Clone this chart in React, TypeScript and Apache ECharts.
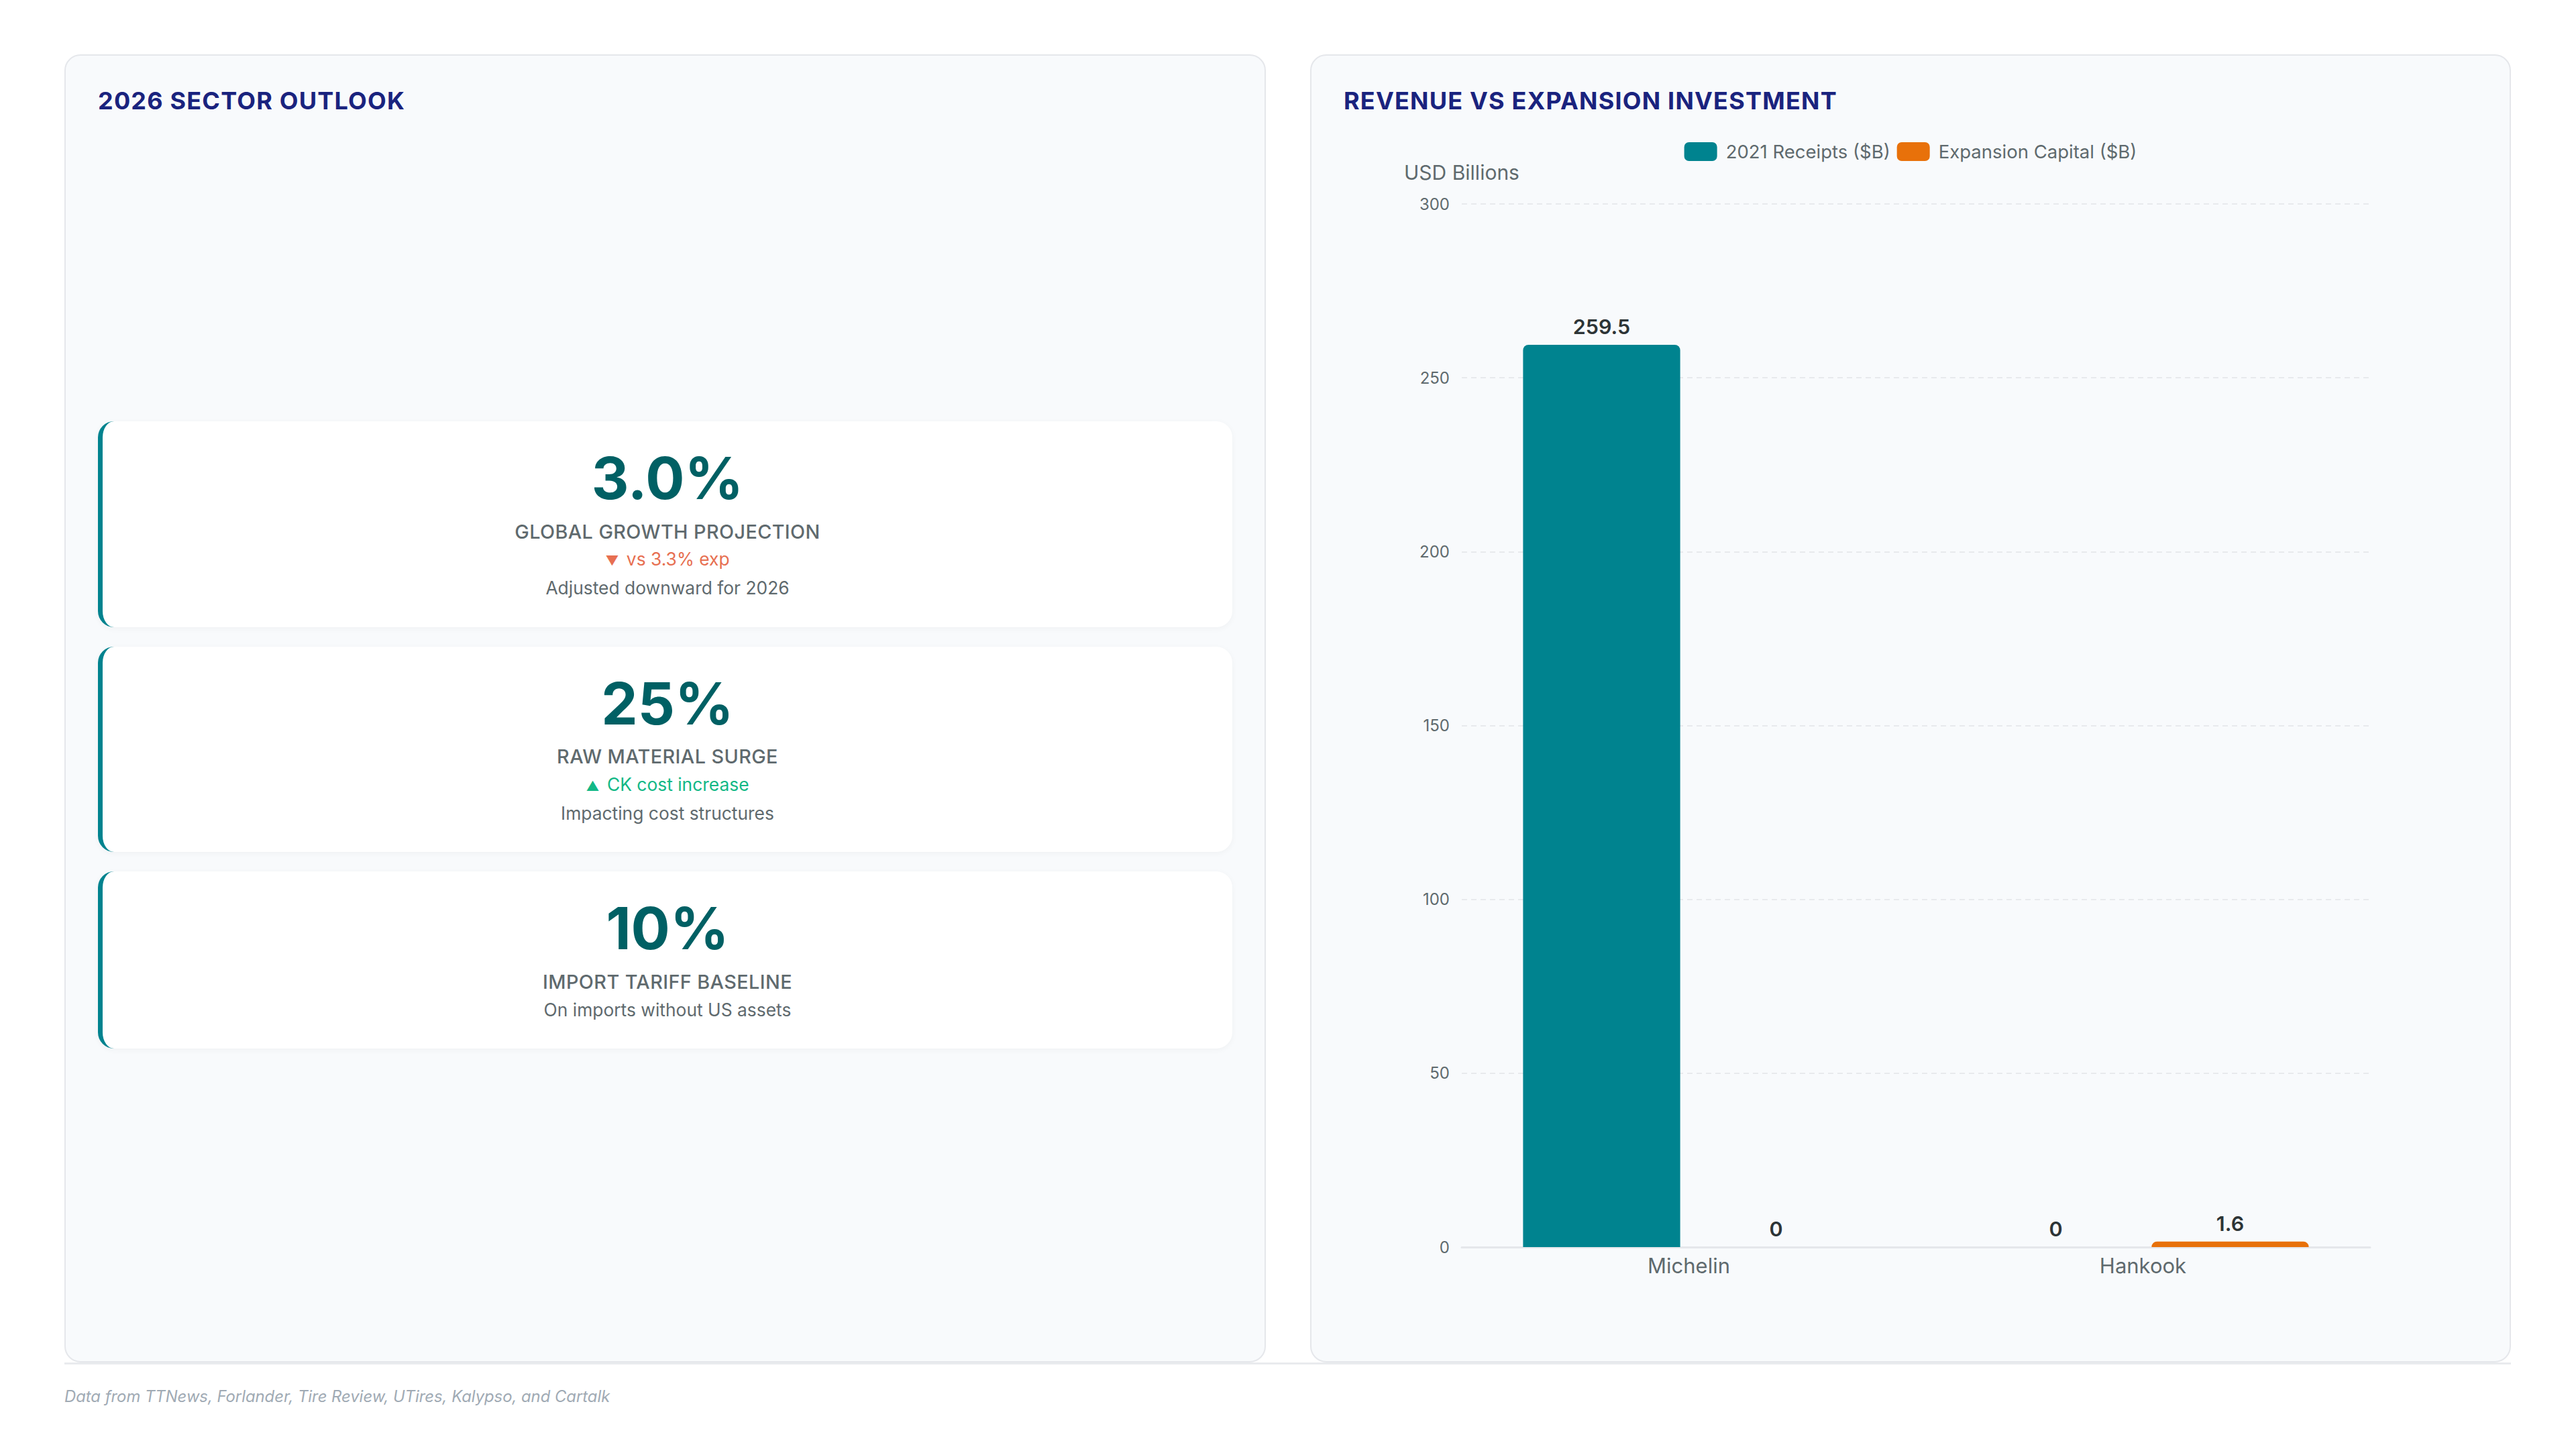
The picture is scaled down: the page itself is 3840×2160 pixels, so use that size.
import React, { useEffect, useRef } from 'react';
import * as echarts from 'echarts';

// chart data
const companies = ['Michelin', 'Hankook'];
const receiptsB = [259.5, 0];
const expansionB = [0, 1.6];
const seriesNames = ['2021 Receipts ($B)', 'Expansion Capital ($B)'];
const yMin = 0;
const yMax = 300;
const yStep = 50;

// outlook cards
const kpiValues = ['3.0%', '25%', '10%'];
const kpiLabels = ['GLOBAL GROWTH PROJECTION', 'RAW MATERIAL SURGE', 'IMPORT TARIFF BASELINE'];
const kpiDeltas = ['▼ vs 3.3% exp', '▲ CK cost increase', ''];
const kpiDeltaDir = ['down', 'up', ''];
const kpiNotes = ['Adjusted downward for 2026', 'Impacting cost structures', 'On imports without US assets'];

const TEAL = '#00838f';
const DARK_TEAL = '#006064';
const ORANGE = '#e8710a';
const NAVY = '#1a237e';
const GRAY = '#5f6a6e';
const RED = '#e76f51';
const GREEN = '#12b886';
const FONT = 'Inter, "Noto Sans", sans-serif';

const panelStyle: React.CSSProperties = {
  position: 'absolute',
  top: 81,
  width: 1791,
  height: 1950,
  boxSizing: 'border-box',
  border: '2px solid #e5e7eb',
  borderRadius: 24,
  background: '#f8fafc',
};

const titleStyle: React.CSSProperties = {
  fontSize: 36,
  fontWeight: 700,
  letterSpacing: 1.2,
  color: NAVY,
  lineHeight: 1.2,
};

const KpiCard: React.FC<{ i: number }> = ({ i }) => {
  const delta = kpiDeltas[i];
  return (
    <div
      style={{
        background: '#ffffff',
        borderLeft: `7px solid ${TEAL}`,
        borderRadius: 24,
        boxShadow: '0 2px 10px rgba(0,0,0,0.04)',
        padding: '40px 24px 42px',
        textAlign: 'center',
      }}
    >
      <div style={{ fontSize: 86.4, fontWeight: 700, color: DARK_TEAL, lineHeight: 1.05, marginBottom: 17 }}>
        {kpiValues[i]}
      </div>
      <div style={{ fontSize: 28.8, fontWeight: 500, color: GRAY, letterSpacing: 0.4, lineHeight: 1.2 }}>
        {kpiLabels[i]}
      </div>
      {delta && (
        <div
          style={{
            fontSize: 26.4,
            color: kpiDeltaDir[i] === 'down' ? RED : GREEN,
            lineHeight: 1.2,
            marginTop: 8,
          }}
        >
          <span style={{ fontSize: '0.75em', marginRight: 4 }}>{delta.slice(0, 1)}</span>
          {delta.slice(1)}
        </div>
      )}
      <div style={{ fontSize: 26.4, color: GRAY, lineHeight: 1.2, marginTop: delta ? 11 : 8 }}>{kpiNotes[i]}</div>
    </div>
  );
};

const RevenueChart: React.FC = () => {
  const chartRef = useRef<HTMLDivElement>(null);

  useEffect(() => {
    if (!chartRef.current) return;
    const chart = echarts.init(chartRef.current, undefined, { renderer: 'svg' });

    const labelStyle = {
      show: true,
      position: 'top',
      distance: 12,
      fontFamily: FONT,
      fontSize: 30.5,
      fontWeight: 600,
      color: '#2d3436',
    };

    chart.setOption({
      animation: false,
      color: [TEAL, ORANGE],
      textStyle: { fontFamily: FONT },
      legend: {
        top: 124,
        left: 'center',
        icon: 'roundRect',
        itemWidth: 49,
        itemHeight: 28,
        itemGap: 10,
        data: seriesNames,
        textStyle: { fontFamily: FONT, fontSize: 27.5, color: GRAY, padding: [0, 0, 0, 8] },
      },
      grid: { left: 224, right: 208, top: 221, bottom: 170, containLabel: false, outerBoundsMode: 'none' },
      xAxis: {
        type: 'category',
        data: companies,
        axisLine: { lineStyle: { color: '#e5e7eb', width: 3 } },
        axisTick: { show: false },
        axisLabel: { fontFamily: FONT, fontSize: 31, color: GRAY, margin: 12 },
      },
      yAxis: {
        type: 'value',
        min: yMin,
        max: yMax,
        interval: yStep,
        name: 'USD Billions',
        nameLocation: 'end',
        nameGap: 32,
        nameTextStyle: { fontFamily: FONT, fontSize: 30, color: GRAY },
        axisLine: { show: false },
        axisTick: { show: false },
        axisLabel: { fontFamily: FONT, fontSize: 24, color: GRAY, margin: 18 },
        splitLine: { lineStyle: { color: '#e8eaed', width: 2, type: [8, 6] } },
      },
      series: [
        {
          name: seriesNames[0],
          type: 'bar',
          data: receiptsB,
          barGap: '11%',
          barCategoryGap: '27%',
          itemStyle: { borderRadius: [8, 8, 0, 0] },
          label: labelStyle,
        },
        {
          name: seriesNames[1],
          type: 'bar',
          data: expansionB,
          itemStyle: { borderRadius: [8, 8, 0, 0] },
          label: labelStyle,
        },
      ],
    });

    return () => {
      chart.dispose();
    };
  }, []);

  return <div ref={chartRef} style={{ position: 'absolute', left: 0, top: 0, width: 1786, height: 1946 }} />;
};

const App: React.FC = () => {
  useEffect(() => {
    document.body.style.margin = '0';
  }, []);

  return (
    <div style={{ position: 'relative', width: 3840, height: 2160, background: '#ffffff', fontFamily: FONT, overflow: 'hidden' }}>
      <div style={{ ...panelStyle, left: 96, padding: '46px 48px 48px', display: 'flex', flexDirection: 'column' }}>
        <div style={{ ...titleStyle, marginBottom: 38 }}>2026 SECTOR OUTLOOK</div>
        <div style={{ flex: 1, display: 'flex', flexDirection: 'column', justifyContent: 'center', gap: 29 }}>
          {kpiValues.map((_, i) => (
            <KpiCard key={i} i={i} />
          ))}
        </div>
      </div>

      <div style={{ ...panelStyle, left: 1953, width: 1790 }}>
        <RevenueChart />
        <div style={{ ...titleStyle, position: 'absolute', left: 48, top: 46 }}>REVENUE VS EXPANSION INVESTMENT</div>
      </div>

      <div style={{ position: 'absolute', left: 96, top: 2031, width: 3647, height: 3, background: '#e9ebee' }} />
      <div
        style={{
          position: 'absolute',
          left: 96,
          top: 2068,
          fontSize: 23.8,
          fontStyle: 'italic',
          color: '#a0aab4',
          lineHeight: 1.2,
        }}
      >
        Data from TTNews, Forlander, Tire Review, UTires, Kalypso, and Cartalk
      </div>
    </div>
  );
};

export default App;
